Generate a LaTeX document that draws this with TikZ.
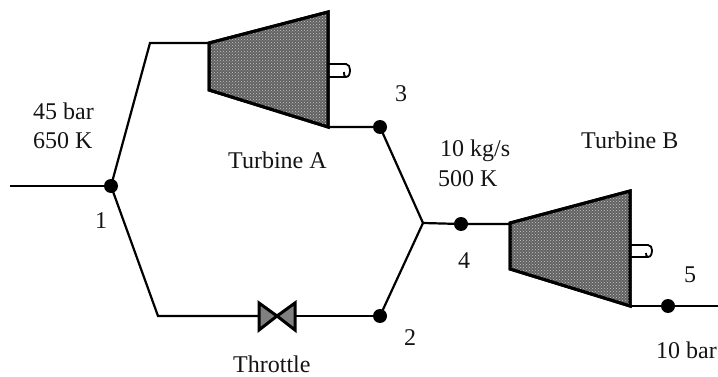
\documentclass[tikz,border=0pt]{standalone}
\usepackage{fontspec}
\setmainfont{Liberation Serif}
\usetikzlibrary{patterns}
\tikzset{
  pipe/.style={line width=2.2pt,line join=miter},
  junction/.style={circle,fill=black,inner sep=0pt,minimum size=14pt},
  casing/.style={line width=3pt,draw=black,fill=black!62,line join=miter},
  speckle/.style={pattern=crosshatch dots,pattern color=black!22},
  valvepart/.style={line width=3pt,draw=black,fill=black!50,line join=miter},
  shaft/.style={line width=1.8pt},
  lbl/.style={font=\fontsize{24}{28}\selectfont,inner sep=0pt,anchor=base west,text=black!92}
}
\begin{document}
\begin{tikzpicture}[x=1pt,y=-1pt]
\useasboundingbox (0,0) rectangle (718,377);
% free ends and bends
\coordinate (in) at (10,186);
\coordinate (ubend) at (150,43);
\coordinate (lbend) at (158,316);
\coordinate (merge) at (423,223);
\coordinate (out) at (718,306);
\coordinate (Ain) at (209,43);
\coordinate (Aout) at (328,127);
\coordinate (Bin) at (510,224);
\coordinate (Bout) at (630,306);
\coordinate (Vl) at (258,316);
\coordinate (Vr) at (296,316);
\coordinate (Vc) at (277,316);
% junctions
\node[junction] (n1) at (111,186) {};
\node[junction] (n3) at (380,127) {};
\node[junction] (n2) at (380,316) {};
\node[junction] (n4) at (461,224) {};
\node[junction] (n5) at (668,306) {};
% pipes
\draw[pipe] (in) -- (n1.center);
\draw[pipe] (n1.center) -- (ubend) -- (Ain);
\draw[pipe] (n1.center) -- (lbend) -- (Vl);
\draw[pipe] (Vr) -- (n2.center);
\draw[pipe] (Aout) -- (n3.center) -- (merge);
\draw[pipe] (n2.center) -- (merge) -- (n4.center) -- (Bin);
\draw[pipe] (Bout) -- (n5.center) -- (out);
% shafts
\draw[shaft] (328,64) -- (346,64) to[out=0,in=90] (350,70) to[out=270,in=0] (346,77) -- (328,77);
\draw[shaft] (346,77) to[out=180,in=270] (344,72);
\draw[shaft] (630,245) -- (648,245) to[out=0,in=90] (652,250) to[out=270,in=0] (648,257) -- (630,257);
\draw[shaft] (648,257) to[out=180,in=270] (646,253);
% turbines
\draw[casing] (Ain) -- (328,12) -- (Aout) -- (209,90) -- cycle;
\fill[speckle] (Ain) -- (328,12) -- (Aout) -- (209,90) -- cycle;
\draw[line width=3pt] (Ain) -- (328,12) -- (Aout) -- (209,90) -- cycle;
\draw[casing] (510,223) -- (630,191) -- (Bout) -- (510,269) -- cycle;
\fill[speckle] (510,223) -- (630,191) -- (Bout) -- (510,269) -- cycle;
\draw[line width=3pt] (510,223) -- (630,191) -- (Bout) -- (510,269) -- cycle;
% throttle
\draw[valvepart] (259,303) -- (Vc) -- (259,330) -- cycle;
\draw[valvepart] (295,303) -- (Vc) -- (295,330) -- cycle;
% labels
\node[lbl] (l45) at (33,120) {45 bar};
\node[lbl] (l650) at (33,149) {650 K};
\node[lbl] (l1) at (95,228) {1};
\node[lbl] (l3) at (395,102) {3};
\node[lbl] (lA) at (228,168) {Turbine A};
\node[lbl] (lm) at (440,157) {10 kg/s};
\node[lbl] (l500) at (438,187) {500 K};
\node[lbl] (lB) at (581,149) {Turbine B};
\node[lbl] (l4) at (458,268) {4};
\node[lbl] (l5) at (684,282) {5};
\node[lbl] (l2) at (404,345) {2};
\node[lbl] (lT) at (233,372) {Throttle};
\node[lbl] (l10) at (656,358) {10 bar};
\end{tikzpicture}
\end{document}
